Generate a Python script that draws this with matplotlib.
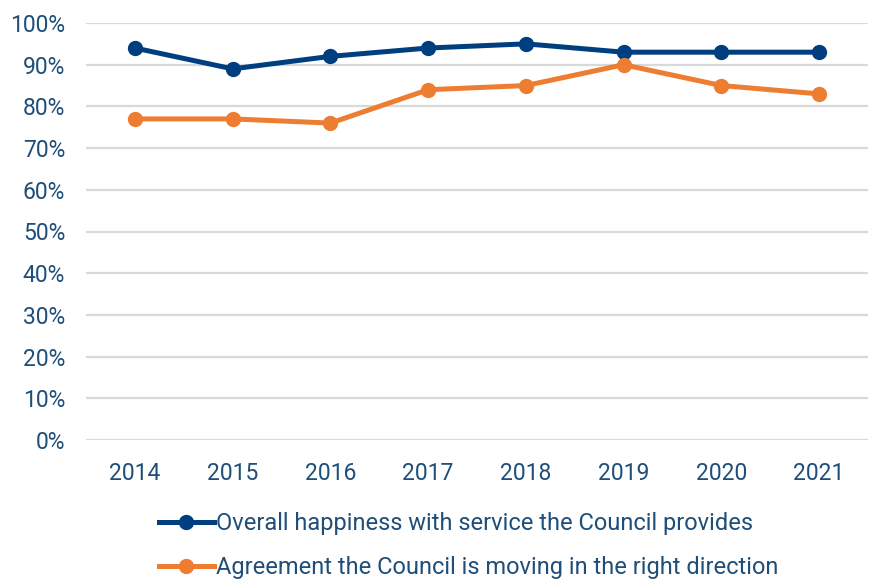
import matplotlib.pyplot as plt
from matplotlib.ticker import FuncFormatter

years = ['2014', '2015', '2016', '2017', '2018', '2019', '2020', '2021']
happiness = [94, 89, 92, 94, 95, 93, 93, 93]
direction = [77, 77, 76, 84, 85, 90, 85, 83]
labels = ['Overall happiness with service the Council provides',
          'Agreement the Council is moving in the right direction']

blue = '#003F7F'
orange = '#ED7D31'
text_col = '#1F4E79'

plt.rcParams['font.family'] = ['Roboto', 'DejaVu Sans']

fig = plt.figure(figsize=(8.69, 5.85), dpi=100)
ax = fig.add_axes([86 / 869, 1 - 440 / 585, 782 / 869, 417 / 585])

x = range(len(years))
ax.plot(x, happiness, color=blue, lw=3.6, marker='o', ms=10, label=labels[0], zorder=3)
ax.plot(x, direction, color=orange, lw=3.6, marker='o', ms=10, label=labels[1], zorder=3)

ax.set_xlim(-0.5, len(years) - 0.5)
ax.set_ylim(0, 100)
ax.set_yticks(range(0, 101, 10))
ax.yaxis.set_major_formatter(FuncFormatter(lambda v, p: f'{v:.0f}%'))
ax.set_xticks(list(x))
ax.set_xticklabels(years)

ax.grid(axis='y', color='#D9D9D9', lw=1.6)
ax.set_axisbelow(True)
for s in ax.spines.values():
    s.set_visible(False)
ax.tick_params(length=0, labelsize=16.5, labelcolor=text_col)
ax.tick_params(axis='y', pad=15)
ax.tick_params(axis='x', pad=16)

leg = ax.legend(loc='upper left', bbox_to_anchor=(52 / 782, -0.122), frameon=False,
                fontsize=17, labelcolor=text_col, handlelength=2.3, handletextpad=0.1,
                labelspacing=0.9)

fig.savefig('out.png', dpi=100)
